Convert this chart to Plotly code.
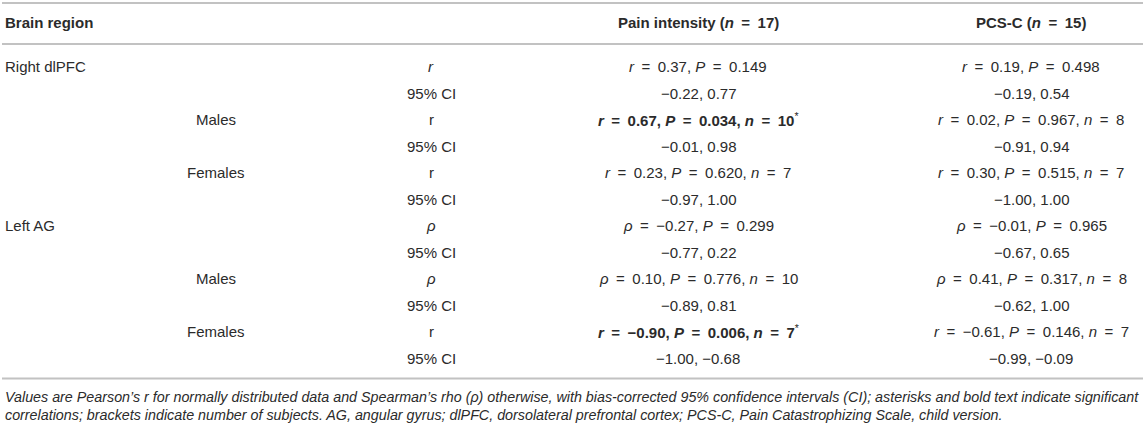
import plotly.graph_objects as go

# table content
regions = ["Right dlPFC", "", "", "", "", "", "Left AG", "", "", "", "", ""]
subgroups = ["", "", "Males", "", "Females", "", "", "", "Males", "", "Females", ""]

# one entry per group (whole / males / females) x region
coef_sym = ["r", "r", "r", "ρ", "ρ", "r"]
label_italic = [True, False, False, True, True, False]

pain_coef = [0.37, 0.67, 0.23, -0.27, 0.10, -0.90]
pain_p = [0.149, 0.034, 0.620, 0.299, 0.776, 0.006]
pain_n = [None, 10, 7, None, 10, 7]
pain_ci = [(-0.22, 0.77), (-0.01, 0.98), (-0.97, 1.00), (-0.77, 0.22), (-0.89, 0.81), (-1.00, -0.68)]
pain_sig = [False, True, False, False, False, True]

pcs_coef = [0.19, 0.02, 0.30, -0.01, 0.41, -0.61]
pcs_p = [0.498, 0.967, 0.515, 0.965, 0.317, 0.146]
pcs_n = [None, 8, 7, None, 8, 7]
pcs_ci = [(-0.19, 0.54), (-0.91, 0.94), (-1.00, 1.00), (-0.67, 0.65), (-0.62, 1.00), (-0.99, -0.09)]
pcs_sig = [False] * 6

headers = ["Brain region", "Pain intensity (<i>n</i>\u2002=\u200217)", "PCS-C (<i>n</i>\u2002=\u200215)"]
footnote = [
    "Values are Pearson’s r for normally distributed data and Spearman’s rho (ρ) otherwise, with bias-corrected 95% confidence intervals (CI); asterisks and bold text indicate significant",
    "correlations; brackets indicate number of subjects. AG, angular gyrus; dlPFC, dorsolateral prefrontal cortex; PCS-C, Pain Catastrophizing Scale, child version.",
]

FONT = "Liberation Sans, Arial, sans-serif"
TXT = "#2b2b2b"
LINE = "#c2c2c2"
EQ = "\u2002=\u2002"

col_region, col_sub, col_stat, col_pain, col_pcs = 3, 216, 431, 698, 1031


def num(v, d=2):
    return f"{v:.{d}f}".replace("-", "−")


def stat_text(sym, c, p, n, sig):
    s = f"<i>{sym}</i>{EQ}{num(c)}, <i>P</i>{EQ}{num(p, 3)}"
    if n is not None:
        s += f", <i>n</i>{EQ}{n}"
    if sig:
        s = f"<b>{s}</b><sup>*</sup>"
    return s


def ci_text(ci):
    return f"{num(ci[0])}, {num(ci[1])}"


stat_col, pain_col, pcs_col = [], [], []
for g in range(6):
    lab = f"<i>{coef_sym[g]}</i>" if label_italic[g] else coef_sym[g]
    stat_col += [lab, "95% CI"]
    pain_col += [stat_text(coef_sym[g], pain_coef[g], pain_p[g], pain_n[g], pain_sig[g]), ci_text(pain_ci[g])]
    pcs_col += [stat_text(coef_sym[g], pcs_coef[g], pcs_p[g], pcs_n[g], pcs_sig[g]), ci_text(pcs_ci[g])]

fig = go.Figure()
# invisible trace so the axes exist
fig.add_trace(go.Scatter(x=[0, 1143], y=[0, 11], mode="markers", marker=dict(opacity=0), hoverinfo="skip", showlegend=False))

ann = []


def add(x, y, text, anchor="center", size=15):
    ann.append(dict(x=x, y=y, xref="x", yref="y", text=text, showarrow=False,
                    xanchor=anchor, yanchor="middle", font=dict(family=FONT, size=size, color=TXT)))


header_y = -1.66
add(col_region, header_y, f"<b>{headers[0]}</b>", "left")
add(col_pain, header_y, f"<b>{headers[1]}</b>")
add(col_pcs, header_y, f"<b>{headers[2]}</b>")

for i in range(len(regions)):
    if regions[i]:
        add(col_region, i, regions[i], "left")
    if subgroups[i]:
        add(col_sub, i, subgroups[i])
    add(col_stat, i, stat_col[i])
    add(col_pain, i, pain_col[i])
    add(col_pcs, i, pcs_col[i])

for k, line in enumerate(footnote):
    add(col_region, 12.45 + 0.69 * k, f"<i>{line}</i>", "left", size=14.3)

shapes = []
for yy in [-2.4, -0.857, 11.77]:
    shapes.append(dict(type="line", xref="x", yref="y", x0=2, x1=1143, y0=yy, y1=yy,
                       line=dict(color=LINE, width=2)))

fig.update_layout(
    width=1143, height=426,
    margin=dict(l=0, r=0, t=0, b=0),
    paper_bgcolor="white", plot_bgcolor="white",
    xaxis=dict(range=[0, 1143], visible=False, fixedrange=True),
    yaxis=dict(range=[13.558, -2.517], visible=False, fixedrange=True),
    annotations=ann, shapes=shapes,
)

# drop the page's default body margin so the figure sits at the top-left corner
fig.write_html("out.html", config={"displayModeBar": False},
               post_script="document.body.style.margin='0';document.body.style.overflow='hidden';")
